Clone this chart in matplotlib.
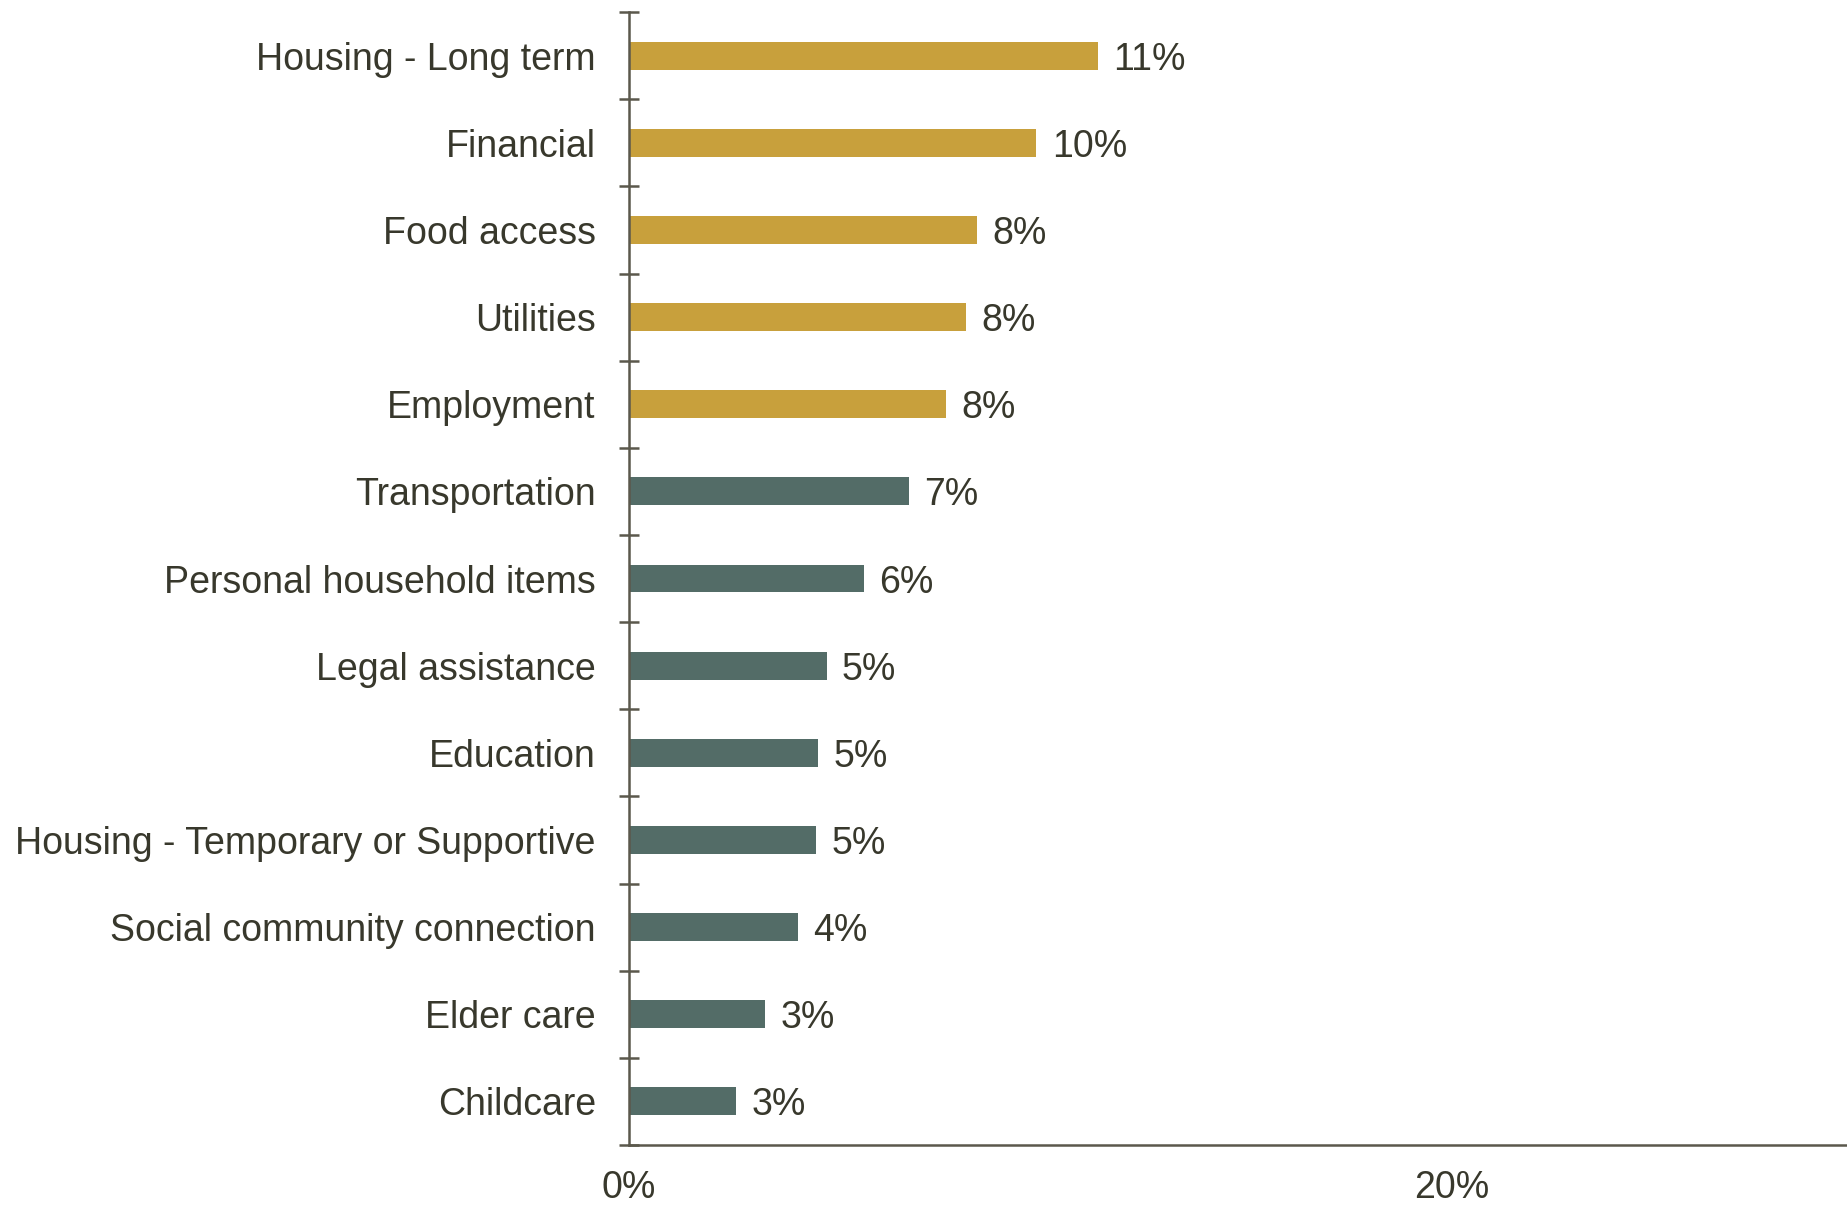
import matplotlib
matplotlib.use("Agg")
import matplotlib.pyplot as plt
import numpy as np

categories = [
    "Housing - Long term",
    "Financial",
    "Food access",
    "Utilities",
    "Employment",
    "Transportation",
    "Personal household items",
    "Legal assistance",
    "Education",
    "Housing - Temporary or Supportive",
    "Social community connection",
    "Elder care",
    "Childcare",
]
shares = [11.4, 9.9, 8.45, 8.2, 7.7, 6.8, 5.7, 4.8, 4.6, 4.55, 4.1, 3.3, 2.6]
top_group_size = 5
x_ticks = [0, 20]

GOLD = "#C8A03C"
SLATE = "#536C67"
AXIS = "#5B584C"
TEXT = "#38382C"
FS = 27

plt.rcParams["font.family"] = ["Liberation Sans", "DejaVu Sans"]

fig = plt.figure(figsize=(18.47, 12.07), dpi=100)
ax = fig.add_axes([0.3406, 0.0514, 0.6594, 0.9386])

y = np.arange(len(categories))
colors = [GOLD if i < top_group_size else SLATE for i in range(len(categories))]
ax.barh(y, shares, height=0.32, color=colors, zorder=2)

for yi, v in zip(y, shares):
    ax.annotate(f"{int(v + 0.5)}%", xy=(v, yi), xytext=(11, 0), textcoords="offset points",
                ha="left", va="center_baseline", fontsize=FS, color=TEXT)

ax.set_ylim(len(categories) - 0.5, -0.5)
ax.set_xlim(0, 29.6)

ax.set_yticks(y)
ax.set_yticklabels(categories)
ax.set_yticks(np.arange(-0.5, len(categories)), minor=True)
ax.tick_params(axis="y", which="major", length=0, pad=24, labelsize=FS, labelcolor=TEXT)
ax.tick_params(axis="y", which="minor", direction="inout", length=14, width=1.8, color=AXIS)

ax.set_xticks(x_ticks)
ax.set_xticklabels([f"{t}%" for t in x_ticks])
ax.tick_params(axis="x", length=0, pad=18, labelsize=FS, labelcolor=TEXT)

for side in ("top", "right"):
    ax.spines[side].set_visible(False)
for side in ("left", "bottom"):
    ax.spines[side].set_color(AXIS)
    ax.spines[side].set_linewidth(1.8)

fig.savefig("out.png", dpi=100, facecolor="white")
